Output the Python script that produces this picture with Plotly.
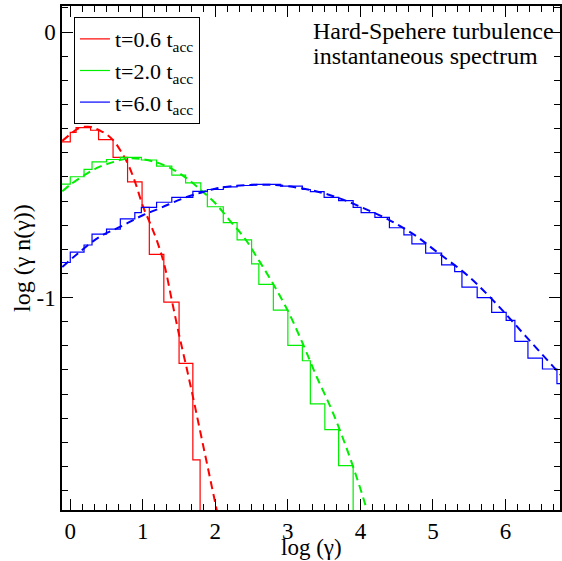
import plotly.graph_objects as go

# ---- data ----
red_edges = [-0.2, 0.0, 0.08, 0.28, 0.39, 0.59, 0.79, 0.99, 1.09, 1.29, 1.50, 1.69, 1.79]
red_vals = [-0.414, -0.378, -0.360, -0.370, -0.405, -0.472, -0.564, -0.660, -0.837, -1.017, -1.248, -1.611]

green_edges = [-0.2, 0.0, 0.19, 0.30, 0.50, 0.69, 0.98, 1.19, 1.40, 1.59, 1.80, 1.89, 2.11, 2.30,
               2.50, 2.60, 2.80, 3.00, 3.20, 3.31, 3.51, 3.70, 3.90]
green_vals = [-0.573, -0.545, -0.517, -0.489, -0.480, -0.472, -0.482, -0.505, -0.539, -0.568, -0.600,
              -0.658, -0.718, -0.783, -0.873, -0.950, -1.047, -1.180, -1.238, -1.400, -1.497, -1.633]

blue_edges = [-0.2, 0.0, 0.19, 0.30, 0.50, 0.69, 0.89, 0.98, 1.19, 1.40, 1.69, 1.89, 2.11, 2.30, 2.50,
              2.90, 3.20, 3.31, 3.50, 3.70, 3.90, 4.01, 4.20, 4.40, 4.60, 4.71, 4.90, 5.12, 5.30, 5.40,
              5.61, 5.81, 6.01, 6.13, 6.31, 6.51, 6.71, 6.95]
blue_vals = [-0.868, -0.829, -0.802, -0.761, -0.742, -0.704, -0.680, -0.660, -0.641, -0.623, -0.600,
             -0.593, -0.583, -0.578, -0.574, -0.580, -0.593, -0.601, -0.623, -0.635, -0.660, -0.680,
             -0.698, -0.737, -0.764, -0.798, -0.833, -0.877, -0.902, -0.961, -1.000, -1.056, -1.086,
             -1.165, -1.228, -1.269, -1.324]

red_fit_x = [-0.11, 0.0, 0.1, 0.2, 0.3, 0.4, 0.5, 0.6, 0.7, 0.8, 0.9, 1.0, 1.1, 1.2, 1.3, 1.4, 1.5,
             1.6, 1.7, 1.8, 1.9, 2.0, 2.05]
red_fit_y = [-0.41, -0.385, -0.365, -0.357, -0.358, -0.370, -0.385, -0.410, -0.450, -0.500, -0.570,
             -0.655, -0.720, -0.790, -0.880, -1.010, -1.140, -1.260, -1.385, -1.515, -1.645, -1.775, -1.84]

green_fit_x = [-0.11, 0.0, 0.2, 0.4, 0.6, 0.8, 1.0, 1.2, 1.4, 1.6, 1.8, 2.0, 2.2, 2.4, 2.6, 2.8,
               3.0, 3.2, 3.4, 3.6, 3.8, 4.0, 4.1, 4.15]
green_fit_y = [-0.600, -0.575, -0.538, -0.508, -0.489, -0.476, -0.479, -0.492, -0.515, -0.550, -0.595,
               -0.645, -0.710, -0.775, -0.860, -0.950, -1.050, -1.170, -1.300, -1.420, -1.560, -1.720,
               -1.810, -1.86]

blue_fit_x = [-0.11, 0.1, 0.4, 0.7, 1.0, 1.25, 1.55, 1.8, 2.0, 2.25, 2.5, 2.75, 3.0, 3.35, 3.7, 4.05,
              4.4, 4.75, 5.05, 5.5, 5.9, 6.3, 6.75, 6.9]
blue_fit_y = [-0.885, -0.835, -0.772, -0.732, -0.690, -0.662, -0.627, -0.605, -0.590, -0.580, -0.576,
              -0.575, -0.581, -0.597, -0.625, -0.664, -0.708, -0.765, -0.827, -0.922, -1.031, -1.152,
              -1.287, -1.33]

labels = ["t=0.6 t<sub>acc</sub>", "t=2.0 t<sub>acc</sub>", "t=6.0 t<sub>acc</sub>"]
colors = ["#ff0000", "#00ee00", "#0000ff"]
x_ticks = [0, 1, 2, 3, 4, 5, 6]
y_ticks = [0, -1]
y_ticktext = ["0", "-1"]
note_lines = ["Hard-Spehere turbulence", "instantaneous spectrum"]

FONT = "Liberation Serif"


def step_xy(edges, vals, end_low):
    xs = list(edges[:-1]) + [edges[-1]]
    ys = list(vals) + [end_low if end_low is not None else vals[-1]]
    return xs, ys


fig = go.Figure()

hists = [(red_edges, red_vals, -3.0), (green_edges, green_vals, -3.0), (blue_edges, blue_vals, None)]
fits = [(red_fit_x, red_fit_y), (green_fit_x, green_fit_y), (blue_fit_x, blue_fit_y)]

for (fx, fy), c in zip(fits, colors):
    fig.add_trace(go.Scatter(x=fx, y=fy, mode="lines", line=dict(color=c, width=2, dash="8px,5px", shape="spline"),
                             showlegend=False, hoverinfo="skip"))

for (e, v, low), c, lab in zip(hists, colors, labels):
    xs, ys = step_xy(e, v, low)
    fig.add_trace(go.Scatter(x=xs, y=ys, mode="lines", line=dict(color=c, width=1.2, shape="hv"),
                             name=lab, showlegend=True))

annotations = [
    dict(text=note_lines[0], xref="paper", yref="paper", x=0.5, y=0.950, xanchor="left", yanchor="middle",
         showarrow=False, font=dict(family=FONT, size=24)),
    dict(text=note_lines[1], xref="paper", yref="paper", x=0.5, y=0.901, xanchor="left", yanchor="middle",
         showarrow=False, font=dict(family=FONT, size=24)),
    dict(text="log (γ)", xref="paper", yref="paper", x=0.5, y=0, yshift=-37, xanchor="center",
         yanchor="middle", showarrow=False, font=dict(family=FONT, size=23)),
    dict(text="log (γ n(γ))", xref="paper", yref="paper", x=0, y=0.5, xshift=-40, xanchor="center",
         yanchor="middle", textangle=-90, showarrow=False, font=dict(family=FONT, size=24)),
]

fig.update_layout(
    width=562, height=561,
    margin=dict(l=62, r=0, t=6, b=51),
    plot_bgcolor="white", paper_bgcolor="white",
    font=dict(family=FONT, size=22, color="black"),
    showlegend=True,
    legend=dict(x=0.024, y=0.978, xanchor="left", yanchor="top", bgcolor="white",
                bordercolor="black", borderwidth=1, font=dict(family=FONT, size=22),
                tracegroupgap=0, itemwidth=30),
    xaxis=dict(range=[-0.114, 6.752], showgrid=False, zeroline=False, showline=True, linecolor="black",
               linewidth=1.5, mirror="ticks", ticks="inside", ticklen=11, tickwidth=1, tickcolor="black",
               tickvals=x_ticks, ticktext=[str(v) for v in x_ticks], tickfont=dict(family=FONT, size=23),
               minor=dict(dtick=1/6, tick0=0, ticks="inside", ticklen=6, tickwidth=1, tickcolor="black", showgrid=False)),
    yaxis=dict(range=[-1.80, 0.098], showgrid=False, zeroline=False, showline=True, linecolor="black",
               linewidth=1.5, mirror="ticks", ticks="inside", ticklen=11, tickwidth=1, tickcolor="black",
               tickvals=y_ticks, ticktext=y_ticktext, tickfont=dict(family=FONT, size=23),
               minor=dict(dtick=1/11, tick0=0, ticks="inside", ticklen=6, tickwidth=1, tickcolor="black", showgrid=False)),
    annotations=annotations,
)

fig.write_html("out.html")
